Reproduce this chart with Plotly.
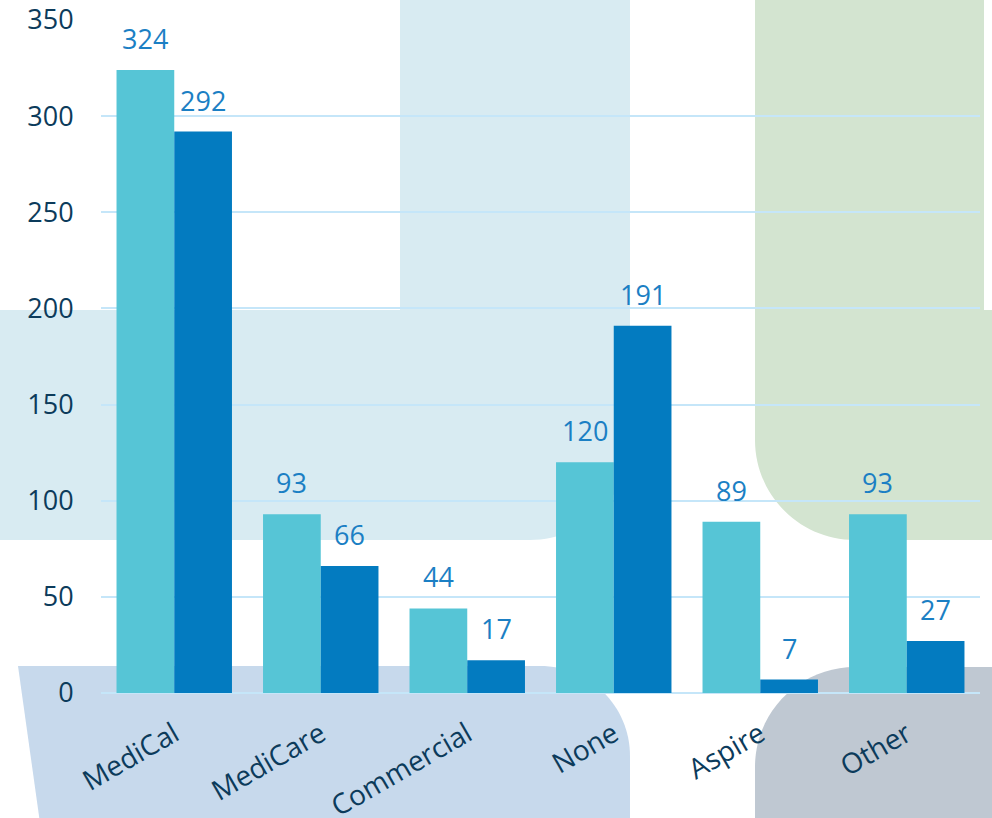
import plotly.graph_objects as go

categories = ["MediCal", "MediCare", "Commercial", "None", "Aspire", "Other"]
series_a = [324, 93, 44, 120, 89, 93]
series_b = [292, 66, 17, 191, 7, 27]
y_ticks = [0, 50, 100, 150, 200, 250, 300, 350]

W, H = 992, 818
L, R, T, B = 101, 12, 20, 125
PW, PH = W - L - R, H - T - B

def P(x, y):
    return f"{(x - L) / PW:.5f},{(H - B - y) / PH:.5f}"

K = 0.5523

def corner(x0, y0, x1, y1, cx, cy):
    c1 = (x0 + (cx - x0) * K, y0 + (cy - y0) * K)
    c2 = (x1 + (cx - x1) * K, y1 + (cy - y1) * K)
    return f" C{P(*c1)} {P(*c2)} {P(x1, y1)}"

shapes = []
r = 100
p = (f"M{P(400, -5)} L{P(630, -5)} L{P(630, 540 - r)}" + corner(630, 540 - r, 630 - r, 540, 630, 540)
     + f" L{P(-5, 540)} L{P(-5, 310)} L{P(400, 310)} Z")
shapes.append(dict(type="path", path=p, fillcolor="#d8ebf2", line_width=0))
p = (f"M{P(755, -5)} L{P(984, -5)} L{P(984, 310)} L{P(997, 310)} L{P(997, 540)} L{P(755 + r, 540)}"
     + corner(755 + r, 540, 755, 540 - r, 755, 540) + " Z")
shapes.append(dict(type="path", path=p, fillcolor="#d3e4d0", line_width=0))
r2 = 90
p = (f"M{P(18, 666)} L{P(630 - r2, 666)}" + corner(630 - r2, 666, 630, 666 + r2, 630, 666)
     + f" L{P(630, 823)} L{P(40, 823)} Z")
shapes.append(dict(type="path", path=p, fillcolor="#c7d9ec", line_width=0))
p = (f"M{P(755, 823)} L{P(755, 667 + r)}" + corner(755, 667 + r, 755 + r, 667, 755, 667)
     + f" L{P(997, 667)} L{P(997, 823)} Z")
shapes.append(dict(type="path", path=p, fillcolor="#bfc8d2", line_width=0))
for s in shapes:
    s.update(xref="paper", yref="paper", layer="below")

fig = go.Figure()
fig.add_trace(go.Bar(x=categories, y=series_a, marker=dict(color="#56c5d6", line=dict(width=0)),
                     name="A", cliponaxis=False))
fig.add_trace(go.Bar(x=categories, y=series_b, marker=dict(color="#037bc0", line=dict(width=0)),
                     name="B", cliponaxis=False))

lab_font = dict(family="Open Sans", size=27, color="#1b7fc4")
annotations = []
for vals, shift in ((series_a, -29), (series_b, 29)):
    for c, v in zip(categories, vals):
        annotations.append(dict(x=c, y=v, xref="x", yref="y", text=str(v), showarrow=False,
                                xshift=shift, yshift=11, yanchor="bottom", font=lab_font))

fig.update_layout(
    width=W, height=H,
    margin=dict(l=L, r=R, t=T, b=B, autoexpand=False),
    paper_bgcolor="white",
    plot_bgcolor="rgba(0,0,0,0)",
    barmode="group", bargap=0.212, bargroupgap=0,
    showlegend=False,
    shapes=shapes,
    annotations=annotations,
    font=dict(family="Open Sans", size=27, color="#0c3b5b"),
)
fig.update_yaxes(range=[0, 350], tickvals=y_ticks, showgrid=True, gridcolor="#c5e6f9", gridwidth=1.5,
                 zeroline=True, zerolinecolor="#c5e6f9", zerolinewidth=1.5,
                 ticks="outside", ticklen=21, tickcolor="rgba(0,0,0,0)", automargin=False,
                 tickfont=dict(family="Open Sans", size=27, color="#0c3b5b"), showline=False)
fig.update_xaxes(tickangle=-30, ticks="outside", ticklen=13, tickcolor="rgba(0,0,0,0)", automargin=False,
                 tickfont=dict(family="Open Sans", size=28, color="#0c3b5b"), showline=False, showgrid=False)

fig.write_html("out.html", config={"displayModeBar": False},
               post_script="document.body.style.margin='0';document.body.style.overflow='hidden';")
